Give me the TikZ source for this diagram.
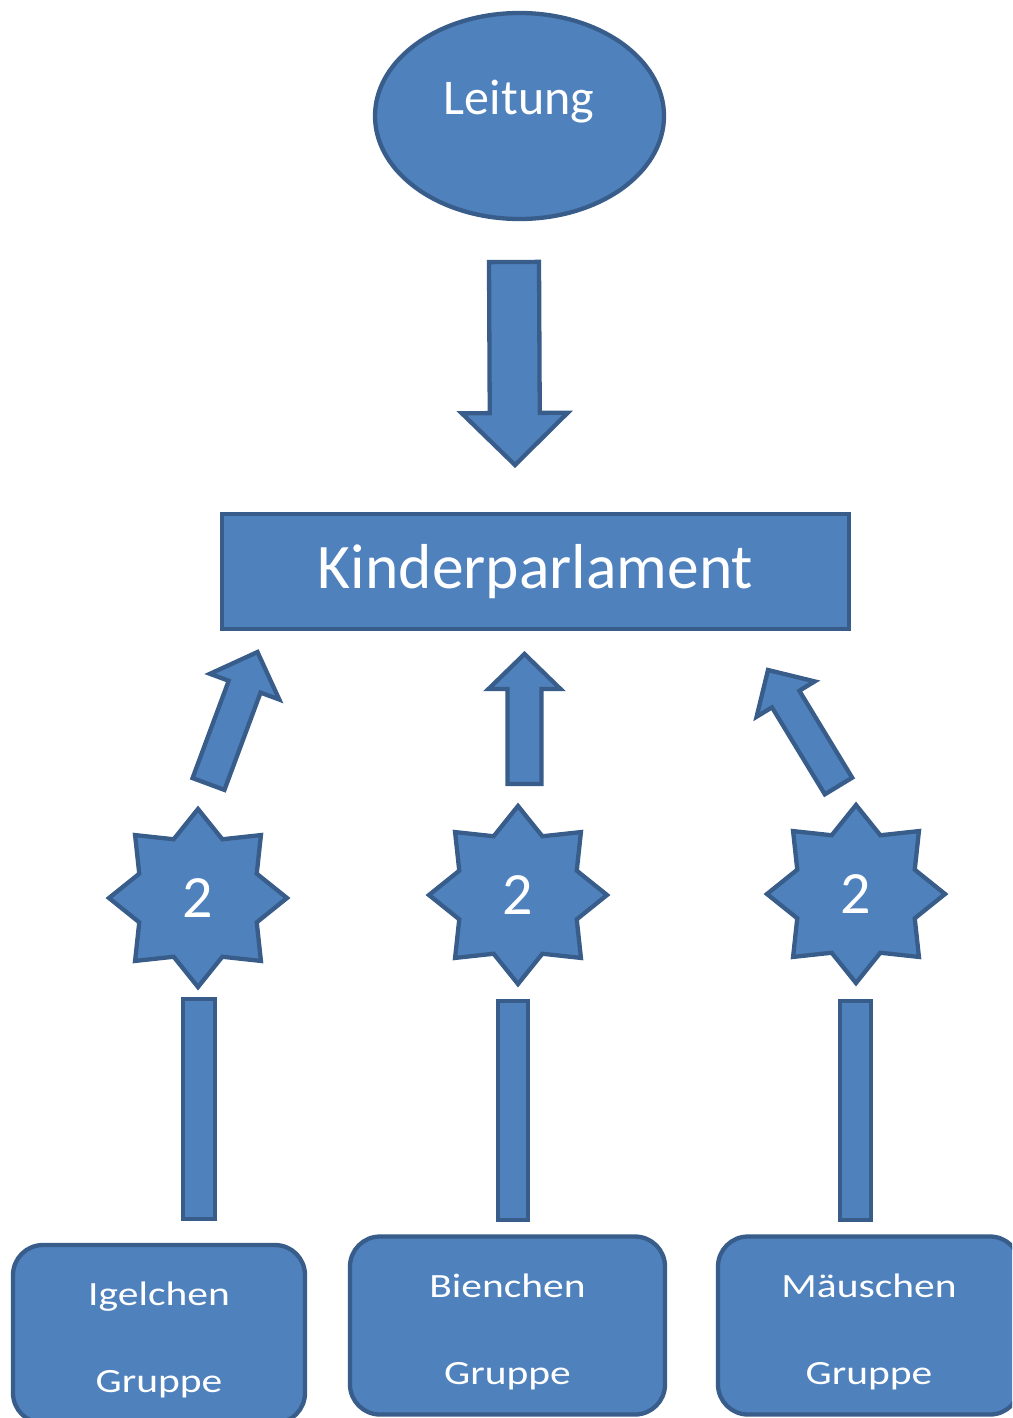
\documentclass[tikz,border=0pt]{standalone}
\usepackage{fontspec}
\setmainfont{Carlito}
\newfontfamily\grpfont[FakeStretch=1.22]{Carlito}
\usepackage{tikz}
\usetikzlibrary{positioning,calc,shapes.geometric}
\definecolor{boxfill}{HTML}{4F81BD}
\definecolor{boxline}{HTML}{385D8A}

% block arrow: tail, tip, half shaft, half head, head length
\newcommand{\blockarrow}[5]{%
  \coordinate (hb) at ($(#2)!#5!(#1)$);
  \draw[blk] ($(#1)!#3!90:(#2)$) -- ($(hb)!#3!90:(#2)$) -- ($(hb)!#4!90:(#2)$) -- (#2)
    -- ($(hb)!#4!-90:(#2)$) -- ($(hb)!#3!-90:(#2)$) -- ($(#1)!#3!-90:(#2)$) -- cycle;}
\newcommand{\grptop}{\rule{0pt}{36pt}}

\begin{document}
\begin{tikzpicture}[x=1pt, y=-1pt,
      blk/.style={fill=boxfill, draw=boxline, line width=4.3pt, line join=miter},
      lead/.style={blk, ellipse, minimum width=289pt, minimum height=206pt},
      parl/.style={blk, rectangle, minimum width=627pt, minimum height=115pt,
                   text=white, font=\fontsize{63.5}{63.5}\selectfont},
      star8/.style={blk, star, star points=8, star point ratio=1.4,
                    minimum size=178pt, inner sep=0pt, text=white,
                    font=\fontsize{60}{60}\selectfont},
      bar/.style={blk, rectangle, inner sep=0pt},
      grp/.style={blk, rectangle, rounded corners=30pt, align=center, text=white,
                  minimum height=178pt, font=\grpfont\fontsize{34}{87}\selectfont}]
    \useasboundingbox (0,0) rectangle (1012,1418);
    \clip (0,0) rectangle (1012,1418);

    \node[lead] (leit) at (519.5,116) {};
    \node[text=white, font=\fontsize{50}{50}\selectfont, anchor=base] (leittxt) at (519,114) {Leitung};
    \node[parl] (kip) at (535.5,571.5) {Kinderparlament};

    \node[star8] (s1) at (198,898) {2};
    \node[star8] (s2) at (518,895) {2};
    \node[star8] (s3) at (856,894) {2};

    \node[bar, minimum width=32pt, minimum height=220pt] (b1) at (199,1109) {};
    \node[bar, minimum width=30pt, minimum height=219pt] (b2) at (513,1110.5) {};
    \node[bar, minimum width=31pt, minimum height=219pt] (b3) at (855.5,1110.5) {};

    \node[grp, minimum width=292pt] (igel) at (159,1334) {\grptop Igelchen\\Gruppe};
    \node[grp, minimum width=315pt] (bien) at (507.5,1325.5) {\grptop Bienchen\\Gruppe};
    \node[grp, minimum width=302pt] (maus) at (869,1325.5) {\grptop Mäuschen\\Gruppe};

    \coordinate (d0) at (514,262);
    \coordinate (d1) at (515,465);
    \coordinate (l0) at (208.5,784);
    \coordinate (l1) at (257.5,652);
    \coordinate (m0) at (524.5,784);
    \coordinate (m1) at (524.5,654);
    \coordinate (r0) at (838.5,786);
    \coordinate (r1) at (768,670);
    \blockarrow{d0}{d1}{25pt}{53pt}{52pt}
    \blockarrow{l0}{l1}{17pt}{37pt}{37pt}
    \blockarrow{m0}{m1}{17pt}{36pt}{35pt}
    \blockarrow{r0}{r1}{16pt}{34pt}{34pt}
  \end{tikzpicture}
\end{document}
